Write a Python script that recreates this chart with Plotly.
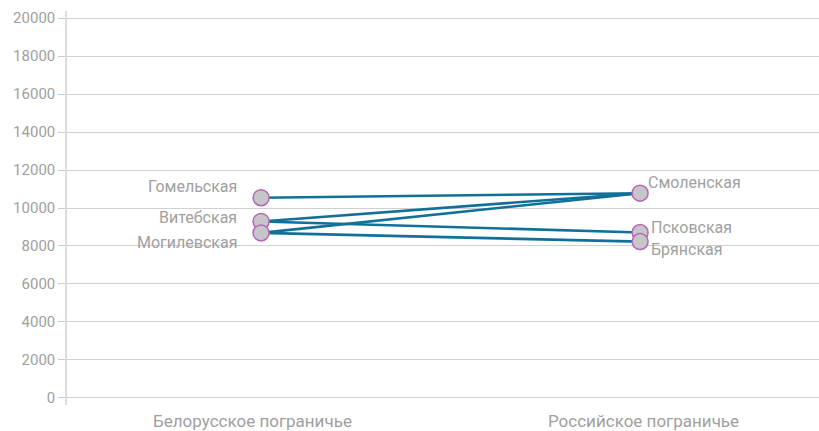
import plotly.graph_objects as go

# categories on the x axis
sides = ["Белорусское пограничье", "Российское пограничье"]

# border regions and their values
by_regions = ["Гомельская", "Витебская", "Могилевская"]
by_values = [10540, 9290, 8690]

ru_regions = ["Смоленская", "Псковская", "Брянская"]
ru_values = [10780, 8710, 8230]

# which Belarusian region connects to which Russian region
links = [
    ("Гомельская", "Смоленская"),
    ("Витебская", "Смоленская"),
    ("Могилевская", "Смоленская"),
    ("Витебская", "Псковская"),
    ("Могилевская", "Брянская"),
]

y_ticks = list(range(0, 20001, 2000))

by_val = dict(zip(by_regions, by_values))
ru_val = dict(zip(ru_regions, ru_values))

LINE = "#10709a"
TXT = "#a0a0a0"
FONT = "Roboto, 'DejaVu Sans Condensed', sans-serif"

fig = go.Figure()

for a, b in links:
    fig.add_trace(go.Scatter(
        x=[sides[0], sides[1]], y=[by_val[a], ru_val[b]],
        mode="lines", line=dict(color=LINE, width=2.6),
        hoverinfo="skip", showlegend=False,
    ))

fig.add_trace(go.Scatter(
    x=[sides[0]] * len(by_values) + [sides[1]] * len(ru_values),
    y=by_values + ru_values,
    mode="markers",
    marker=dict(size=16, color="#c6c6ca", line=dict(color="#b865b4", width=1.5)),
    text=by_regions + ru_regions,
    showlegend=False,
))

# label offsets (px) so the names sit next to their markers
left_shift = {"Гомельская": 11, "Витебская": 4, "Могилевская": -10}
right_shift = {"Смоленская": 11, "Псковская": 5, "Брянская": -8}

for name, val in zip(by_regions, by_values):
    fig.add_annotation(x=sides[0], y=val, text=name, showarrow=False,
                       xanchor="right", xshift=-22, yshift=left_shift[name],
                       font=dict(size=16, color=TXT, family=FONT))
for name, val in zip(ru_regions, ru_values):
    fig.add_annotation(x=sides[1], y=val, text=name, showarrow=False,
                       xanchor="left", xshift=6 if name == "Смоленская" else 9,
                       yshift=right_shift[name],
                       font=dict(size=16, color=TXT, family=FONT))

# category names under the plot
for i, s in enumerate(sides):
    fig.add_annotation(x=s, y=0, yref="paper", text=s, showarrow=False,
                       yanchor="top", yshift=-4, xshift=-9 if i == 0 else 3,
                       font=dict(size=17, color=TXT, family=FONT))

fig.update_layout(
    width=819, height=431,
    margin=dict(l=67, r=0, t=11, b=26, autoexpand=False),
    paper_bgcolor="white", plot_bgcolor="white",
    font=dict(family=FONT, size=15, color=TXT),
    xaxis=dict(type="category", range=[-0.512, 1.472], showgrid=False,
               ticks="", showline=False, zeroline=False, showticklabels=False,
               automargin=False),
    yaxis=dict(range=[-370, 20370], tickvals=y_ticks,
               ticktext=[str(v) for v in y_ticks],
               showgrid=True, gridcolor="#d0d0d0", gridwidth=1,
               zeroline=False, showline=True, linecolor="#dcdcdc", linewidth=1.5,
               ticks="outside", ticklen=7, tickcolor="#cccccc",
               tickfont=dict(size=15, color=TXT), automargin=False),
)

fig.write_html("out.html", config={"displayModeBar": False},
               post_script="document.body.style.margin='0';")
